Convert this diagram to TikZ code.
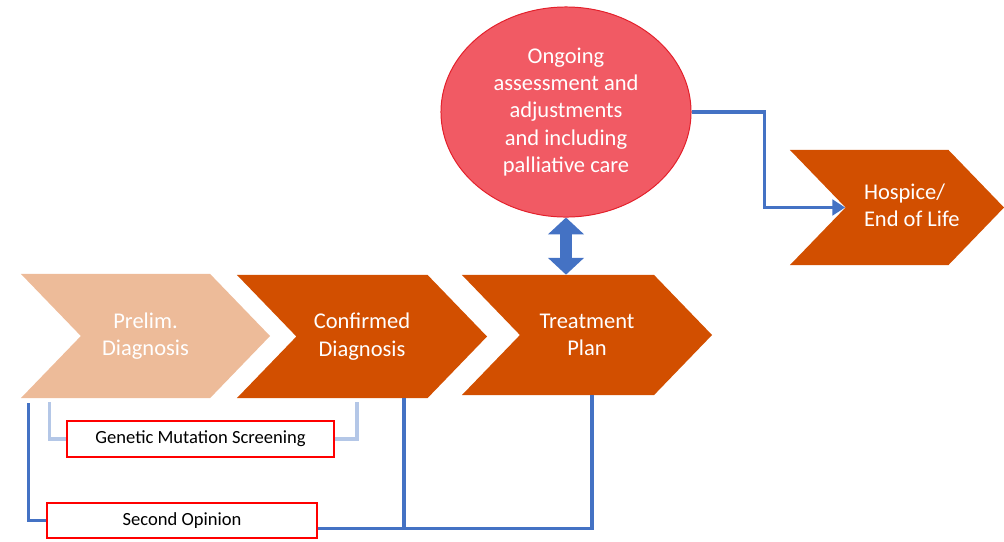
\documentclass[tikz,border=0pt]{standalone}
\usepackage{fontspec}
\setmainfont{Carlito}
\usepackage{tikz}
\usetikzlibrary{positioning, arrows.meta, shapes.geometric, shapes.symbols, calc}

\definecolor{stageorange}{HTML}{D24F00}
\definecolor{stagepeach}{HTML}{EDBB99}
\definecolor{ongoingfill}{HTML}{F15A64}
\definecolor{ongoingline}{HTML}{E3202B}
\definecolor{linkblue}{HTML}{4472C4}
\definecolor{linklight}{HTML}{B4C7E7}
\definecolor{boxred}{HTML}{FF0000}

\begin{document}
\begin{tikzpicture}[
  x=0.025cm, y=-0.025cm,
  stage/.style={signal, signal from=west, signal to=east, signal pointer angle=92,
                inner sep=0pt, align=center, text=white,
                font=\fontsize{16}{19.6}\selectfont},
  ongoing/.style={ellipse, minimum width=6.25cm, minimum height=5.25cm, inner sep=0pt,
                  align=center, text=white, fill=ongoingfill, draw=ongoingline,
                  line width=0.7pt, font=\fontsize{16}{19.4}\selectfont},
  sbox/.style={draw=boxred, line width=1.3pt, fill=white, inner sep=0pt,
               font=\fontsize{13.2}{16}\selectfont},
  link/.style={linkblue, line width=2.4pt},
  lightlink/.style={linklight, line width=2.2pt},
  dblarrow/.style={linkblue, line width=8.5pt,
                   {Triangle[width=25pt, length=12pt]}-{Triangle[width=25pt, length=12pt]}},
]
  \useasboundingbox (0,0) rectangle (1004,541);

  % ═══ Stages ═══════════════════════════════════════════════════
  \node[stage, fill=stagepeach, minimum width=6.225cm, minimum height=3.1cm]
    (prelim) at (145.5,336) {Prelim.\\Diagnosis};
  \node[stage, fill=stageorange, minimum width=6.25cm, minimum height=3.075cm]
    (conf) at (362,336.5) {Confirmed\\Diagnosis};
  \node[stage, fill=stageorange, minimum width=6.25cm, minimum height=3.0cm]
    (treat) at (587,335) {Treatment\\Plan};
  \node[stage, fill=stageorange, minimum width=5.35cm, minimum height=2.875cm]
    (hosp) at (897,207.5)
    {\makebox[2.35cm][l]{\hspace{0.35cm}\begin{tabular}{@{}l@{}}Hospice/\\End of Life\end{tabular}}};

  % Ongoing care
  \node[ongoing] (ong) at (566,112)
    {Ongoing\\assessment and\\adjustments\\and including\\palliative care};

  % ═══ Side boxes ═══════════════════════════════════════════════
  \node[sbox, minimum width=6.675cm, minimum height=0.9cm] (gen) at (200.5,439)
    {Genetic Mutation Screening};
  \node[sbox, minimum width=6.75cm, minimum height=0.875cm] (second) at (182,520.5)
    {Second Opinion};

  % ═══ Links ════════════════════════════════════════════════════
  \draw[dblarrow] (ong.south) -- (ong.south |- treat.north);
  \draw[link, -{Triangle[width=11pt, length=9pt]}] (ong.east) -- ++(73,0) |- (hosp.west);

  % screening bracket
  \draw[lightlink] (gen.west) -| ($(prelim.south)+(-96,4)$);
  \draw[lightlink] (gen.east) -| ($(conf.south)+(-5,4)$);

  % second opinion
  \coordinate (sojoin) at ($(second.east)+(0,8)$);
  \coordinate (cdrop) at ($(conf.south)+(42,0)$);
  \draw[link] (second.west) -| ($(prelim.south)+(-117,5)$);
  \draw[link] (sojoin) -| ($(treat.south)+(5,0)$);
  \draw[link] (cdrop) -- (cdrop |- sojoin);
\end{tikzpicture}
\end{document}
